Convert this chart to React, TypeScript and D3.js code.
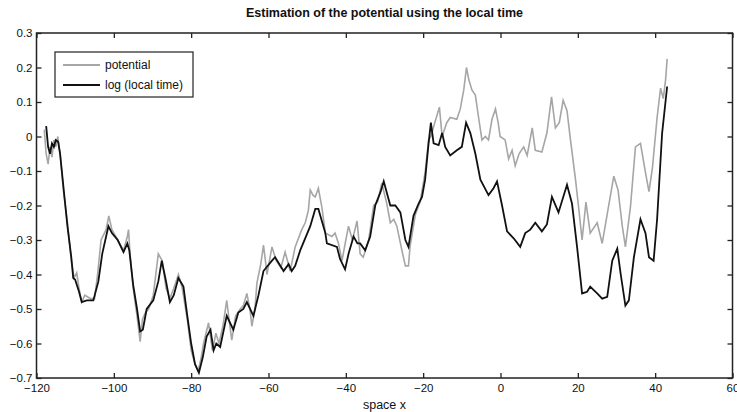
import { useEffect, useRef } from 'react';
import * as d3 from 'd3';

// log (local time) — black curve
const localX: number[] = [
  -117.5, -117, -116.5, -116, -115.5, -115, -114.4, -113.9, -113, -112, -111, -110.5, -110, -109, -108.3, -107,
  -105.3, -104, -103, -102, -101.4, -100.5, -99, -97.5, -96.5, -96, -95, -94, -93.2, -92.5, -91.5, -89.8,
  -88.5, -87.6, -86.5, -85.5, -84.5, -83.3, -82, -81, -80, -79, -78, -77, -76, -75, -74.2, -73.5, -72.5,
  -70.8, -69.1, -67.8, -66.5, -65.6, -63.9, -62.6, -61.3, -59.1, -58.3, -56.1, -54.8, -54, -53.1, -51.8,
  -49.2, -47.9, -47.1, -45.3, -44.9, -42.3, -41.5, -40.2, -39.3, -38, -37, -36.3, -35, -33.7, -32.4, -31,
  -30.2, -28.5, -27.2, -25.9, -24.6, -23.8, -22.5, -21.2, -20.3, -19.5, -18.6, -18, -17.3, -16, -15.1,
  -14.3, -13, -11.3, -10, -8.9, -7.8, -6.5, -5.2, -3.1, -1.8, -0.9, 0.4, 1.7, 3.4, 5.1, 6.4, 7.7, 9, 10.7,
  12, 13.3, 15, 17.2, 18.5, 19.8, 21.1, 22.4, 23.2, 25, 26.3, 27.6, 28.9, 30.2, 31.1, 32.3, 33.2, 34.5,
  36.2, 37.5, 38.4, 39.6, 40.5, 41.8, 43.1,
];
const localY: number[] = [
  0.03, -0.03, -0.05, -0.02, -0.03, -0.01, -0.015, -0.05, -0.15, -0.26, -0.35, -0.41, -0.415, -0.45, -0.48, -0.475,
  -0.475, -0.42, -0.34, -0.29, -0.26, -0.28, -0.3, -0.335, -0.31, -0.33, -0.43, -0.5, -0.565, -0.56, -0.5, -0.475,
  -0.42, -0.36, -0.42, -0.48, -0.46, -0.41, -0.435, -0.52, -0.6, -0.66, -0.685, -0.64, -0.58, -0.56, -0.62, -0.6, -0.61,
  -0.52, -0.56, -0.51, -0.5, -0.48, -0.52, -0.46, -0.39, -0.36, -0.35, -0.39, -0.37, -0.39, -0.375, -0.33,
  -0.26, -0.21, -0.21, -0.28, -0.31, -0.32, -0.355, -0.385, -0.34, -0.29, -0.31, -0.31, -0.33, -0.29, -0.2, -0.16,
  -0.13, -0.2, -0.2, -0.22, -0.3, -0.32, -0.23, -0.195, -0.175, -0.125, -0.02, 0.04, -0.02, -0.025, 0.01,
  -0.03, -0.055, -0.04, -0.03, 0.04, 0.01, -0.05, -0.125, -0.17, -0.15, -0.13, -0.2, -0.275, -0.295, -0.32, -0.28, -0.27, -0.25, -0.275,
  -0.255, -0.175, -0.22, -0.14, -0.195, -0.32, -0.455, -0.45, -0.435, -0.455, -0.47, -0.465, -0.36, -0.325, -0.4, -0.49, -0.475, -0.35,
  -0.24, -0.28, -0.35, -0.36, -0.24, 0.01, 0.145,
];

// potential — grey curve
const potX: number[] = [
  -118, -117.5, -117, -116.5, -116, -115.5, -115, -114.5, -113.9, -113, -112, -111, -110.3, -109.6, -109, -108.3,
  -107.5, -106, -105, -104.2, -103.3, -102, -101.3, -100.5, -99, -97.5, -96.5, -96.2, -95.8, -95, -94, -93.2,
  -92.6, -91.8, -91, -89.8, -88.5, -87.5, -86.5, -85.5, -84.5, -83.3, -82.3, -81, -80, -79, -78.2, -77.4,
  -76.8, -75.5, -74.5, -73.6, -72.8, -71.8, -70.8, -70.2, -69.5, -68.5, -67.3, -66.5, -65.6, -64.8, -64.3,
  -63.5, -63, -62, -61.3, -60.8, -60.4, -59.1, -58, -56.8, -55.7, -54.4, -53.1, -51.4, -50.5, -49.7, -49.2,
  -48.5, -47.9, -47.1, -46.2, -45.3, -43.6, -42.8, -41.9, -41, -40, -39.3, -38.3, -37.1, -36.3, -35.5, -34.1,
  -32.8, -31.8, -30.7, -29.4, -28.5, -27.6, -26.8, -25.5, -24.6, -23.8, -23.4, -22, -20.8, -19.5, -18.6, -18,
  -17, -15.8, -15.1, -13.9, -13, -11.3, -10.4, -9.5, -8.8, -8.2, -7.4, -6.5, -5.6, -4.8, -3.9, -3.1, -2.2,
  -1.3, -0.6, -0.1, 1.2, 2.1, 3, 3.8, 4.8, 6, 6.9, 8.2, 9, 10.7, 12, 13.2, 14.2, 15.2, 16.2, 17.2, 18.1,
  19.4, 20.2, 21.1, 22.1, 23.2, 25, 26.3, 27.6, 29.3, 30.4, 31.5, 32.3, 33.6, 34.9, 36.2, 37.5, 38.4, 39.3,
  40.5, 41.4, 42.1, 42.7, 43.1,
];
const potY: number[] = [
  0.02, -0.05, -0.08, -0.03, -0.06, -0.01, -0.03, 0.0, -0.05, -0.16, -0.25, -0.36, -0.41, -0.395, -0.44, -0.48,
  -0.46, -0.47, -0.47, -0.4, -0.3, -0.27, -0.23, -0.27, -0.3, -0.33, -0.29, -0.27, -0.34, -0.44, -0.52, -0.595,
  -0.53, -0.51, -0.5, -0.46, -0.34, -0.36, -0.44, -0.47, -0.44, -0.4, -0.44, -0.53, -0.62, -0.66, -0.68, -0.64,
  -0.6, -0.54, -0.62, -0.57, -0.6, -0.55, -0.475, -0.53, -0.59, -0.52, -0.5, -0.49, -0.455, -0.5, -0.55,
  -0.5, -0.425, -0.37, -0.315, -0.36, -0.4, -0.32, -0.36, -0.38, -0.335, -0.39, -0.32, -0.27, -0.25, -0.215, -0.155,
  -0.17, -0.175, -0.15, -0.205, -0.28, -0.29, -0.28, -0.31, -0.36, -0.3, -0.26, -0.3, -0.245, -0.34, -0.35, -0.3,
  -0.2, -0.19, -0.135, -0.195, -0.25, -0.24, -0.26, -0.33, -0.375, -0.375, -0.32, -0.225, -0.19, -0.105, -0.01, 0.0,
  0.04, 0.085, 0.0, 0.04, 0.055, 0.05, 0.08, 0.135, 0.2, 0.165, 0.135, 0.12, 0.05, -0.01, 0.0, -0.01, 0.05,
  0.08, 0.04, 0.0, -0.01, -0.065, -0.04, -0.085, -0.05, -0.03, -0.055, 0.025, -0.04, -0.045, 0.01, 0.115, 0.025, 0.04, 0.105, 0.075, -0.01,
  -0.125, -0.205, -0.3, -0.19, -0.28, -0.25, -0.31, -0.225, -0.115, -0.155, -0.26, -0.32, -0.205, -0.03, -0.02, -0.105, -0.16, -0.09,
  0.055, 0.14, 0.11, 0.165, 0.225,
];

const xTicks: number[] = [-120, -100, -80, -60, -40, -20, 0, 20, 40, 60];
const yTicks: number[] = [-0.7, -0.6, -0.5, -0.4, -0.3, -0.2, -0.1, 0, 0.1, 0.2, 0.3];
const legendLabels: string[] = ['potential', 'log (local time)'];
const seriesColors: string[] = ['#a6a6a6', '#111111'];

const font = '"Liberation Sans", Arial, Helvetica, sans-serif';
// MATLAB-like labels with a real minus sign
const fmtY = (v: number) => (v === 0 ? '0' : (v < 0 ? '\u2212' : '') + d3.format('.1f')(Math.abs(v)));
const fmtX = (v: number) => (v < 0 ? '\u2212' : '') + Math.abs(v);

const App: React.FC = () => {
  const svgRef = useRef<SVGSVGElement | null>(null);

  useEffect(() => {
    if (!svgRef.current) return;

    const width = 737;
    const height = 412;
    const marginLeft = 36.5;
    const marginRight = 4.5;
    const marginTop = 33;
    const marginBottom = 34;

    const x = d3.scaleLinear().domain([-120, 60]).range([marginLeft, width - marginRight]);
    const y = d3.scaleLinear().domain([-0.7, 0.3]).range([height - marginBottom, marginTop]);

    const svg = d3.select(svgRef.current);
    svg.selectAll('*').remove();

    const line = d3
      .line<[number, number]>()
      .x((d) => x(d[0]))
      .y((d) => y(d[1]));

    const potData = potX.map((v, i) => [v, potY[i]] as [number, number]);
    const localData = localX.map((v, i) => [v, localY[i]] as [number, number]);

    svg
      .append('path')
      .datum(potData)
      .attr('d', line)
      .attr('fill', 'none')
      .attr('stroke', seriesColors[0])
      .attr('stroke-width', 1.6);

    svg
      .append('path')
      .datum(localData)
      .attr('d', line)
      .attr('fill', 'none')
      .attr('stroke', seriesColors[1])
      .attr('stroke-width', 1.8);

    // axes (ticks pointing inwards, MATLAB style)
    const bottom = svg
      .append('g')
      .attr('transform', `translate(0,${height - marginBottom})`)
      .call(d3.axisBottom(x).tickValues(xTicks).tickSize(-5).tickPadding(6).tickFormat((d) => fmtX(+d)));
    const left = svg
      .append('g')
      .attr('transform', `translate(${marginLeft},0)`)
      .call(d3.axisLeft(y).tickValues(yTicks).tickSize(-5).tickPadding(4).tickFormat((d) => fmtY(+d)));
    const top = svg
      .append('g')
      .attr('transform', `translate(0,${marginTop})`)
      .call(d3.axisTop(x).tickValues(xTicks).tickSize(-5).tickFormat(() => ''));
    const right = svg
      .append('g')
      .attr('transform', `translate(${width - marginRight},0)`)
      .call(d3.axisRight(y).tickValues(yTicks).tickSize(-5).tickFormat(() => ''));

    [bottom, left, top, right].forEach((g) => {
      g.select('.domain').remove();
      g.selectAll('line').attr('stroke', '#222').attr('stroke-width', 1.3);
      g.selectAll('text')
        .attr('fill', '#111')
        .style('font-family', font)
        .style('font-size', '11.5px');
    });

    svg
      .append('rect')
      .attr('x', marginLeft)
      .attr('y', marginTop)
      .attr('width', width - marginRight - marginLeft)
      .attr('height', height - marginBottom - marginTop)
      .attr('fill', 'none')
      .attr('stroke', '#222')
      .attr('stroke-width', 1.5);

    // title and x label
    svg
      .append('text')
      .attr('x', (marginLeft + width - marginRight) / 2)
      .attr('y', 17)
      .attr('text-anchor', 'middle')
      .style('font-family', font)
      .style('font-size', '12.5px')
      .style('font-weight', 'bold')
      .attr('fill', '#111')
      .text('Estimation of the potential using the local time');

    svg
      .append('text')
      .attr('x', (marginLeft + width - marginRight) / 2)
      .attr('y', 409)
      .attr('text-anchor', 'middle')
      .style('font-family', font)
      .style('font-size', '12.5px')
      .attr('fill', '#111')
      .text('space x');

    // legend
    const lg = svg.append('g').attr('transform', 'translate(55,52)');
    lg.append('rect')
      .attr('width', 138)
      .attr('height', 45)
      .attr('fill', 'white')
      .attr('stroke', '#222')
      .attr('stroke-width', 1.2);
    legendLabels.forEach((label, i) => {
      const yy = 13 + i * 20;
      lg.append('line')
        .attr('x1', 8)
        .attr('x2', 45)
        .attr('y1', yy)
        .attr('y2', yy)
        .attr('stroke', seriesColors[i])
        .attr('stroke-width', i === 0 ? 1.8 : 2);
      lg.append('text')
        .attr('x', 50)
        .attr('y', yy)
        .attr('dy', '0.35em')
        .style('font-family', font)
        .style('font-size', '12px')
        .attr('fill', '#111')
        .text(label);
    });
  }, []);

  return (
    <svg
      ref={svgRef}
      width={737}
      height={412}
      style={{ position: 'absolute', left: 0, top: 0, background: 'white' }}
    ></svg>
  );
};

export default App;
